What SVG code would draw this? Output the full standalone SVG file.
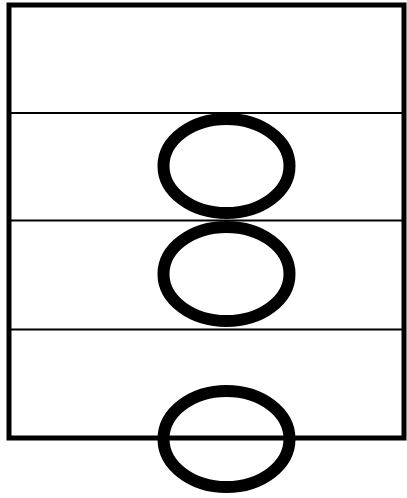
<svg xmlns="http://www.w3.org/2000/svg" width="407" height="498" viewBox="0 0 407 498">
  <style>
    .frame { fill: none; stroke: #000; stroke-width: 5; }
    .divider { stroke: #000; stroke-width: 2; }
    .ring { fill: none; stroke: #000; stroke-width: 12; }
  </style>
  <rect width="407" height="498" fill="#fff"/>
  <g id="frame">
    <rect class="frame" x="9" y="5" width="395" height="433"/>
    <line class="divider" x1="9" y1="113" x2="404" y2="113"/>
    <line class="divider" x1="9" y1="220.5" x2="404" y2="220.5"/>
    <line class="divider" x1="9" y1="329.5" x2="404" y2="329.5"/>
  </g>
  <g id="ring1"><ellipse class="ring" cx="226.5" cy="166" rx="63" ry="47"/></g>
  <g id="ring2"><ellipse class="ring" cx="226.5" cy="274" rx="63" ry="47"/></g>
  <g id="ring3"><ellipse class="ring" cx="226.5" cy="439" rx="63" ry="48"/></g>
</svg>
